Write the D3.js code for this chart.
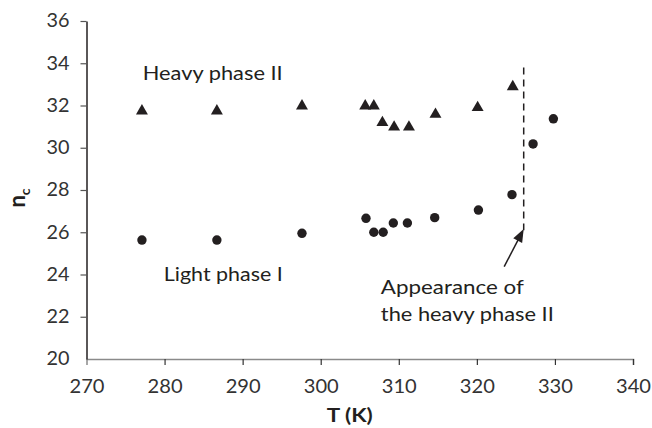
<!DOCTYPE html>
<html>
<head>
<meta charset="utf-8">
<script src="https://cdn.jsdelivr.net/npm/d3@7"></script>
<style>
  body { margin: 0; background: #fff; }
  text { font-family: "Lato", "Liberation Sans", sans-serif; fill: #231f20; }
</style>
</head>
<body>
<div id="chart"></div>
<script>
// data
var heavyT = [277.1, 286.7, 297.6, 305.7, 306.8, 307.9, 309.4, 311.3, 314.7, 320.1, 324.6];
var heavyN = [31.74, 31.74, 31.98, 31.98, 31.98, 31.19, 30.98, 30.98, 31.58, 31.9, 32.89];
var lightT = [277.1, 286.7, 297.6, 305.8, 306.8, 308.0, 309.3, 311.1, 314.6, 320.2, 324.5, 327.2, 329.8];
var lightN = [25.63, 25.63, 25.95, 26.66, 26.0, 26.0, 26.44, 26.44, 26.69, 27.05, 27.78, 30.18, 31.37];
var xTicks = [270, 280, 290, 300, 310, 320, 330, 340];
var yTicks = [20, 22, 24, 26, 28, 30, 32, 34, 36];
var onsetT = 326.0;

var svgWidth = 652;
var svgHeight = 428;
var margin = { top: 21, right: 19, bottom: 69, left: 86.5 };
var width = svgWidth - margin.left - margin.right;
var height = svgHeight - margin.top - margin.bottom;

var svg = d3.select("#chart").append("svg")
    .attr("width", svgWidth)
    .attr("height", svgHeight);

var g = svg.append("g")
    .attr("transform", `translate(${margin.left}, ${margin.top})`);

var x = d3.scaleLinear().domain([270, 340]).range([0, width]);
var y = d3.scaleLinear().domain([20, 36]).range([height, 0]);

// axes
var xAxis = g.append("g")
    .attr("transform", `translate(0, ${height})`)
    .call(d3.axisBottom(x).tickValues(xTicks).tickSize(6).tickPadding(15));
xAxis.select(".domain").attr("stroke", "#8a8a8a").attr("stroke-width", 1.5);
xAxis.selectAll(".tick line").attr("stroke", "#333").attr("stroke-width", 1.2);
xAxis.selectAll(".tick line").filter(d => d === 270).remove();
xAxis.selectAll("text")
    .attr("font-size", 18.5)
    .attr("textLength", 35)
    .attr("lengthAdjust", "spacingAndGlyphs")
    .style("fill", "#333");

var yAxis = g.append("g")
    .call(d3.axisLeft(y).tickValues(yTicks).tickSize(6).tickPadding(11).tickSizeOuter(0));
yAxis.select(".domain").attr("stroke", "#231f20").attr("stroke-width", 1.5);
yAxis.selectAll(".tick line").attr("stroke", "#555").attr("stroke-width", 1.2);
yAxis.selectAll(".tick line").filter(d => d === 20).remove();
yAxis.selectAll("text")
    .attr("font-size", 18.5)
    .attr("textLength", 23)
    .attr("lengthAdjust", "spacingAndGlyphs")
    .style("fill", "#333");

// axis titles
g.append("text")
    .attr("x", width / 2 - 10)
    .attr("y", height + 63)
    .attr("text-anchor", "middle")
    .attr("font-size", 19)
    .attr("font-weight", "bold")
    .attr("textLength", 46)
    .attr("lengthAdjust", "spacingAndGlyphs")
    .text("T (K)");

var yTitle = g.append("text")
    .attr("transform", `translate(${-61.5}, ${height / 2 + 8}) rotate(-90)`)
    .attr("text-anchor", "middle")
    .attr("font-size", 22)
    .attr("font-weight", "bold");
yTitle.append("tspan").text("n");
yTitle.append("tspan").attr("font-size", 14).attr("dy", 5).text("c");

// onset line
g.append("line")
    .attr("x1", x(onsetT)).attr("x2", x(onsetT))
    .attr("y1", y(33.8)).attr("y2", y(26.1))
    .attr("stroke", "#231f20")
    .attr("stroke-width", 1.5)
    .attr("stroke-dasharray", "7,5");

// markers
var tri = d3.symbol().type(d3.symbolTriangle).size(62);
g.selectAll(".heavy")
    .data(heavyT)
    .enter()
    .append("path")
    .attr("class", "heavy")
    .attr("d", tri)
    .attr("transform", (d, i) => `translate(${x(d)}, ${y(heavyN[i])})`)
    .attr("fill", "#231f20");

g.selectAll(".light")
    .data(lightT)
    .enter()
    .append("circle")
    .attr("class", "light")
    .attr("cx", d => x(d))
    .attr("cy", (d, i) => y(lightN[i]))
    .attr("r", 4.7)
    .attr("fill", "#231f20");

// arrow pointing at the onset
var tail = [x(323.5), y(24.37)];
var tip = [x(326.0), y(26.15)];
var dx = tip[0] - tail[0], dy = tip[1] - tail[1];
var len = Math.sqrt(dx * dx + dy * dy);
var ux = dx / len, uy = dy / len;
var headLen = 13, headHalf = 5;
var base = [tip[0] - ux * headLen, tip[1] - uy * headLen];

g.append("line")
    .attr("x1", tail[0]).attr("y1", tail[1])
    .attr("x2", base[0] + ux * 2).attr("y2", base[1] + uy * 2)
    .attr("stroke", "#231f20")
    .attr("stroke-width", 1.5);
g.append("path")
    .attr("d", d3.line()([
        tip,
        [base[0] - uy * headHalf, base[1] + ux * headHalf],
        [base[0] + uy * headHalf, base[1] - ux * headHalf]
    ]) + "Z")
    .attr("fill", "#231f20");

// labels
function label(t, n, txt, w) {
    g.append("text")
        .attr("x", x(t)).attr("y", y(n))
        .attr("font-size", 18.5)
        .attr("textLength", w)
        .attr("lengthAdjust", "spacingAndGlyphs")
        .text(txt);
}
label(277.2, 33.2, "Heavy phase II", 140);
label(279.9, 23.67, "Light phase I", 119);
label(307.7, 23.1, "Appearance of", 143);
label(307.7, 21.8, "the heavy phase II", 173);
</script>
</body>
</html>
